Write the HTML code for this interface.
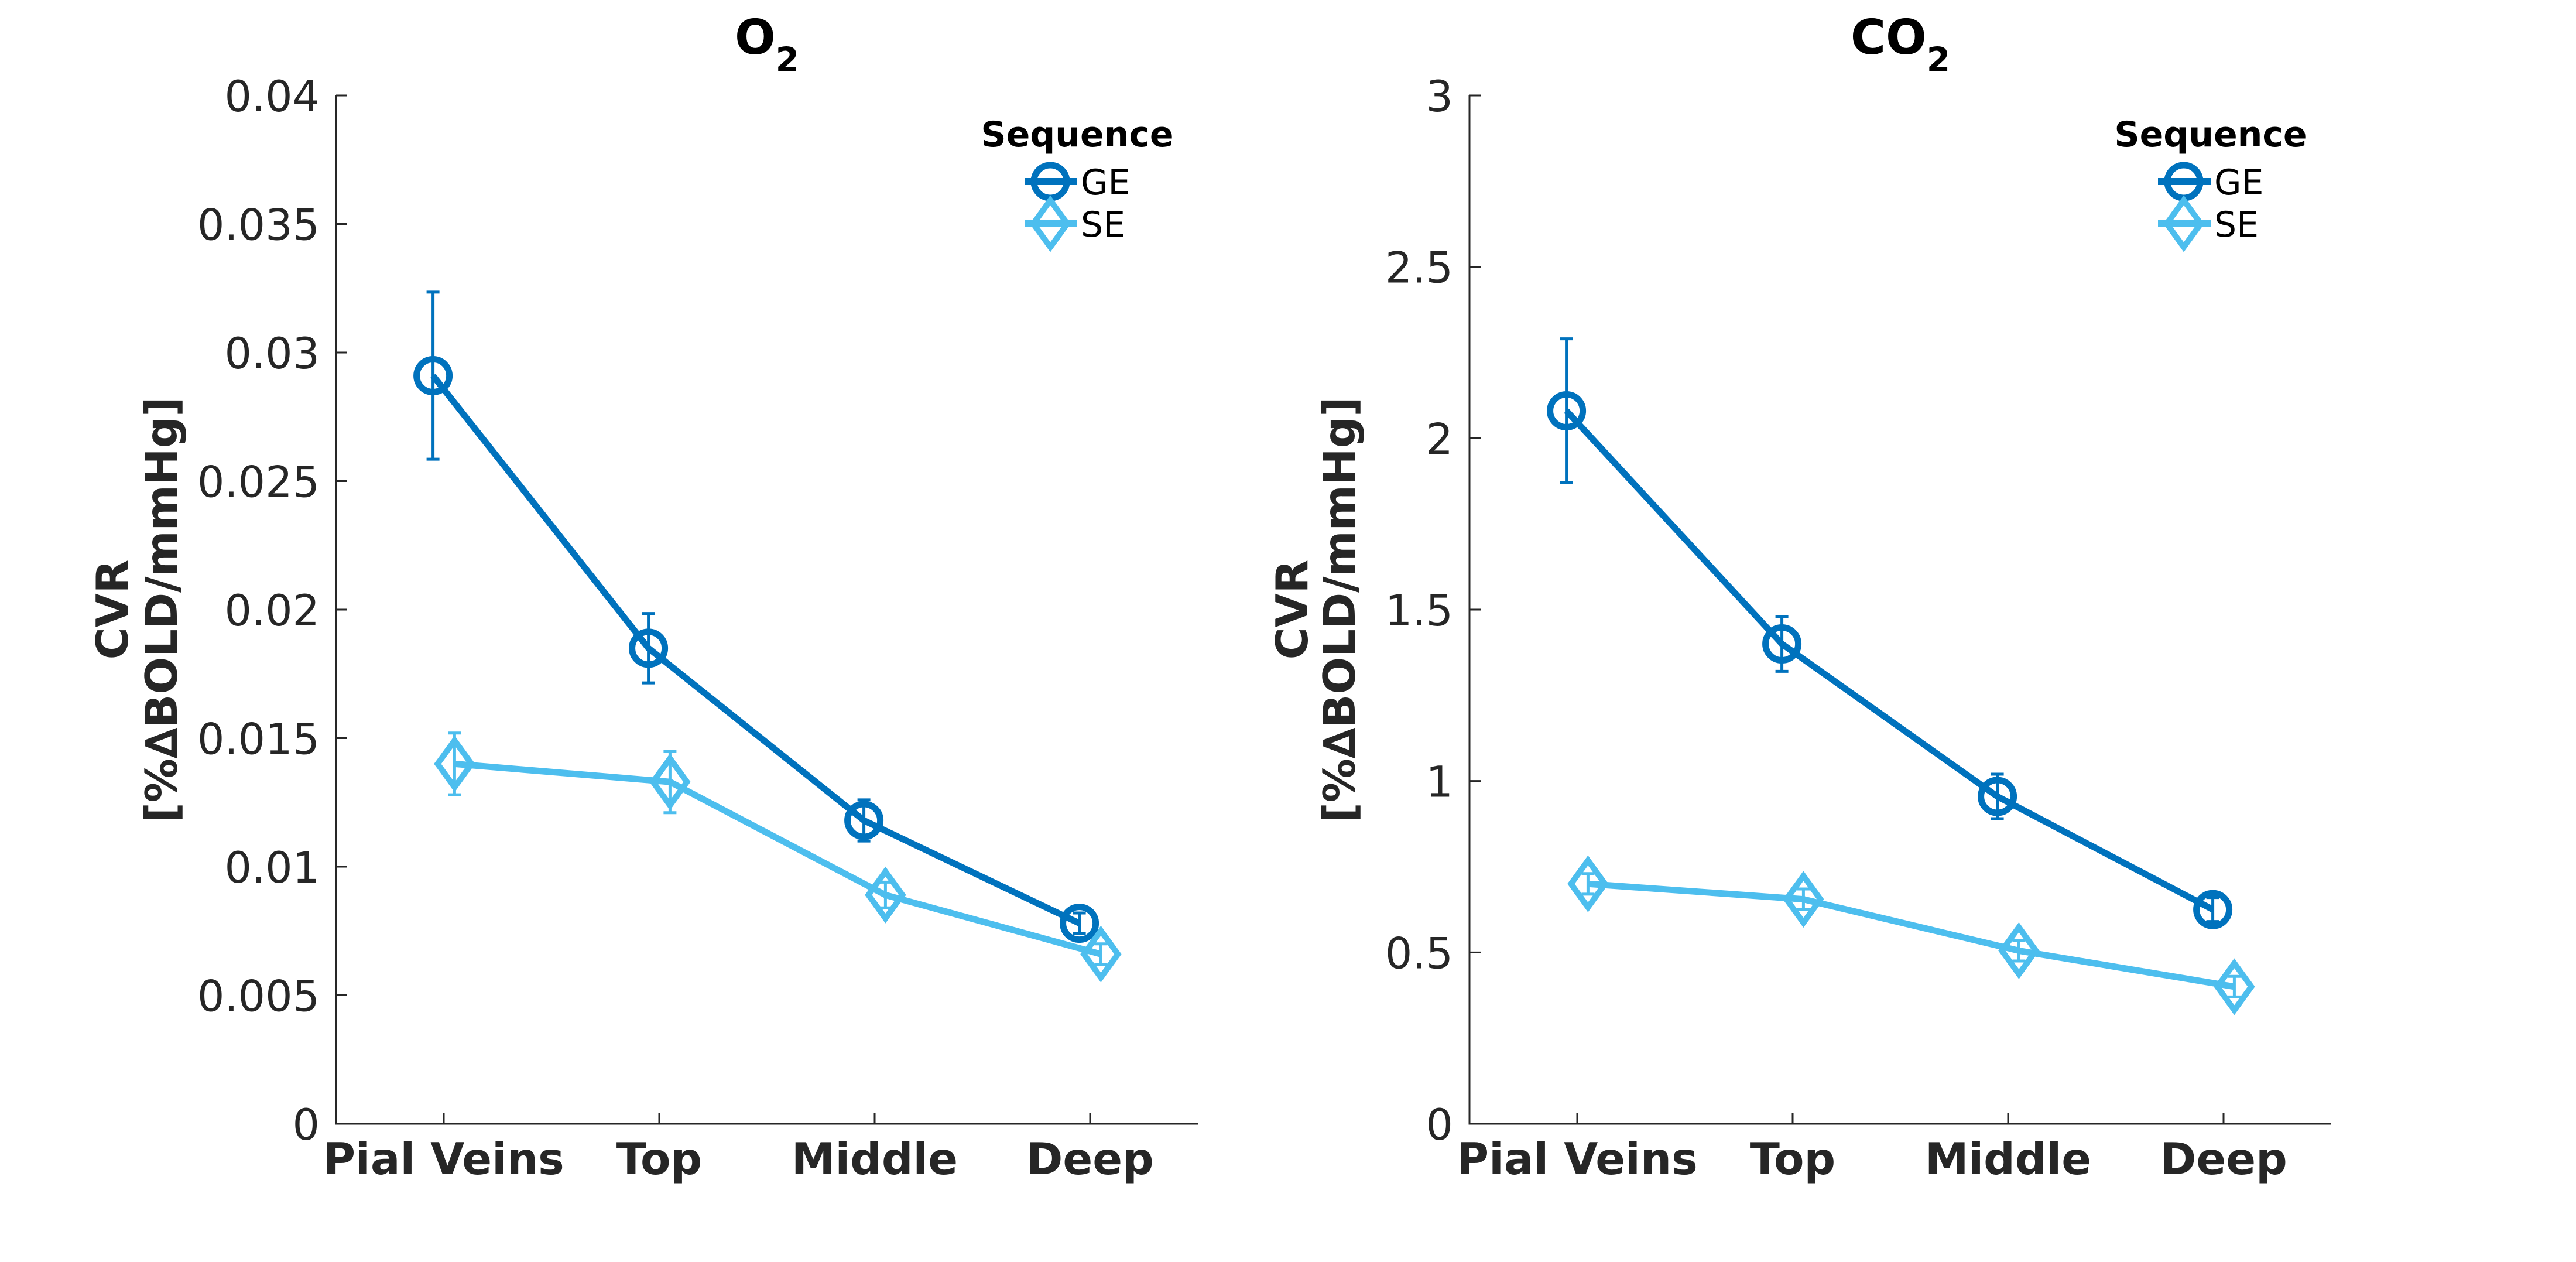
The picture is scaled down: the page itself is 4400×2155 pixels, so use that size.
<!DOCTYPE html>
<html><head><meta charset="utf-8"><style>
html,body{margin:0;padding:0;background:#fff;}
svg{display:block;font-family:"DejaVu Sans","Liberation Sans",sans-serif;}
</style></head><body>
<svg id="chart" width="4400" height="2155" viewBox="0 0 4400 2155" xmlns="http://www.w3.org/2000/svg"></svg>
<script>
const categories = ["Pial Veins","Top","Middle","Deep"];
const seriesNames = ["GE","SE"];
const o2GE = [0.0291,0.0185,0.0118,0.0078];
const o2GEerr = [0.00325,0.00135,0.0008,0.0004];
const o2SE = [0.0140,0.0133,0.0089,0.0066];
const o2SEerr = [0.0012,0.0012,0.0005,0.0004];
const co2GE = [2.08,1.40,0.955,0.625];
const co2GEerr = [0.21,0.08,0.065,0.035];
const co2SE = [0.70,0.655,0.505,0.40];
const co2SEerr = [0.03,0.03,0.03,0.03];
const o2Ticks = [0,0.005,0.01,0.015,0.02,0.025,0.03,0.035,0.04];
const o2TickLabels = ["0","0.005","0.01","0.015","0.02","0.025","0.03","0.035","0.04"];
const co2Ticks = [0,0.5,1,1.5,2,2.5,3];
const co2TickLabels = ["0","0.5","1","1.5","2","2.5","3"];

const NS="http://www.w3.org/2000/svg";
const svg=document.getElementById('chart');
function mk(tag,attrs,parent){const e=document.createElementNS(NS,tag);for(const k in attrs)e.setAttribute(k,attrs[k]);(parent||svg).appendChild(e);return e;}
const colors=["#0072BD","#4DBEEE"];

function panel(name,left,ymax,ticks,tickLabels,ge,geErr,se,seErr,titleMain,lab1,lab2){
  const top=163,bottom=1919,width=1472;
  const g=mk('g',{});
  
  
  const X=v=>left+(v-0.5)/4*width;
  const Y=v=>bottom-(v/ymax)*(bottom-top);
  const ax=mk('path',{d:`M${left},${top}L${left},${bottom}L${left+width},${bottom}`,fill:'none',stroke:'#262626','stroke-width':3},g);
  
  
  ticks.forEach((t,i)=>{
    const y=Y(t);
    mk('line',{x1:left,x2:left+19,y1:y,y2:y,stroke:'#262626','stroke-width':3},g);
    const tl=mk('text',{x:left-28,y:y+27,'text-anchor':'end','font-size':73,fill:'#262626'},g);
    tl.textContent=tickLabels[i];
    
    
  });
  categories.forEach((c,i)=>{
    const x=X(i+1);
    mk('line',{x1:x,x2:x,y1:bottom,y2:bottom-19,stroke:'#262626','stroke-width':3},g);
    const tl=mk('text',{x:x,y:bottom+86,'text-anchor':'middle','font-size':75,'font-weight':'bold',fill:'#262626'},g);
    tl.textContent=c;
    
    
  });
  const tt=mk('text',{x:left+width/2,y:92,'text-anchor':'middle','font-size':82,'font-weight':'bold',fill:'#000'},g);
  tt.innerHTML=titleMain+'<tspan font-size="58" dy="30">2</tspan>';
  
  
  const cy=(top+bottom)/2;
  const yl=mk('text',{transform:`translate(${left-lab1},${cy}) rotate(-90)`,'text-anchor':'middle','font-size':75,'font-weight':'bold',fill:'#262626'},g);
  yl.textContent='CVR';
  
  
  const yl2=mk('text',{transform:`translate(${left-lab2},${cy}) rotate(-90)`,'text-anchor':'middle','font-size':75,'font-weight':'bold',fill:'#262626'},g);
  yl2.textContent='[%\u2206BOLD/mmHg]';
  
  
  [[ge,geErr,-0.05,'circle'],[se,seErr,0.05,'diamond']].forEach((s,si)=>{
    const [vals,errs,off,mkr]=s;const col=colors[si];
    const pts=vals.map((v,i)=>[X(i+1+off),Y(v)]);
    const ln=mk('polyline',{points:pts.map(p=>p.join(',')).join(' '),fill:'none',stroke:col,'stroke-width':11,'stroke-linejoin':'round'},g);
    
    
    vals.forEach((v,i)=>{
      const x=pts[i][0],y1=Y(v+errs[i]),y2=Y(v-errs[i]);
      const eb=mk('path',{d:`M${x},${y1}L${x},${y2}M${x-11},${y1}L${x+11},${y1}M${x-11},${y2}L${x+11},${y2}`,stroke:col,'stroke-width':5,fill:'none'},g);
      
      
      let m;
      if(mkr==='circle') m=mk('circle',{cx:x,cy:pts[i][1],r:28,fill:'none',stroke:col,'stroke-width':11},g);
      else m=mk('path',{d:`M${x},${pts[i][1]-40}L${x+29},${pts[i][1]}L${x},${pts[i][1]+40}L${x-29},${pts[i][1]}Z`,fill:'none',stroke:col,'stroke-width':10},g);
      
      
    });
  });
  const lx=left+1176;
  const lg=mk('g',{},g);
  
  
  const lt=mk('text',{x:lx+90,y:250,'text-anchor':'middle','font-size':60,'font-weight':'bold',fill:'#000'},lg);
  lt.textContent='Sequence';
  
  
  [310,382].forEach((yy,si)=>{
    const col=colors[si];
    mk('line',{x1:lx,x2:lx+90,y1:yy,y2:yy,stroke:col,'stroke-width':12},lg);
    if(si===0) mk('circle',{cx:lx+44,cy:yy,r:28,fill:'none',stroke:col,'stroke-width':11},lg);
    else mk('path',{d:`M${lx+44},${yy-40}L${lx+73},${yy}L${lx+44},${yy+40}L${lx+15},${yy}Z`,fill:'none',stroke:col,'stroke-width':10},lg);
    const et=mk('text',{x:lx+96,y:yy+22,'font-size':60,fill:'#000'},lg);
    et.textContent=seriesNames[si];
    
    
  });
}
panel('o2',574,0.04,o2Ticks,o2TickLabels,o2GE,o2GEerr,o2SE,o2SEerr,'O',356,272);
panel('co2',2510,3,co2Ticks,co2TickLabels,co2GE,co2GEerr,co2SE,co2SEerr,'CO',277,196);
</script>
</body></html>
